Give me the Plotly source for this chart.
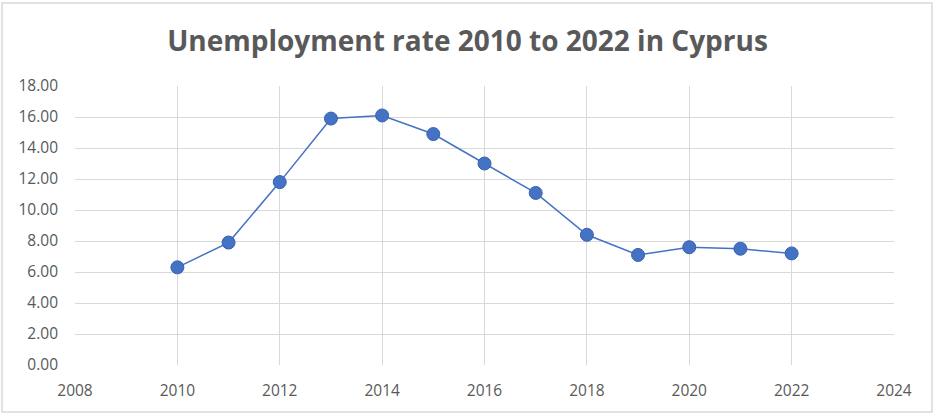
import plotly.graph_objects as go

# Unemployment rate in Cyprus, percent of labour force
years = [2010, 2011, 2012, 2013, 2014, 2015, 2016, 2017, 2018, 2019, 2020, 2021, 2022]
rates = [6.3, 7.9, 11.8, 15.9, 16.1, 14.9, 13.0, 11.1, 8.4, 7.1, 7.6, 7.5, 7.2]

x_ticks = [2008, 2010, 2012, 2014, 2016, 2018, 2020, 2022, 2024]
y_ticks = [0, 2, 4, 6, 8, 10, 12, 14, 16, 18]

blue = "#4472C4"
grey_text = "#595959"
grid = "#d9d9d9"

fig = go.Figure()
fig.add_trace(go.Scatter(
    x=years, y=rates,
    mode="lines+markers",
    line=dict(color=blue, width=1.5),
    marker=dict(size=13, color=blue, line=dict(color="#3a62ad", width=1)),
    showlegend=False,
))

W, H = 935, 415
m_l, m_r, m_t, m_b = 75, 41, 86, 50
pw, ph = W - m_l - m_r, H - m_t - m_b

def px_x(p):
    return (p - m_l) / pw

def px_y(p):
    return (H - m_b - p) / ph

tick_font = dict(family="Open Sans", size=15.5, color=grey_text)

fig.update_layout(
    width=W, height=H,
    margin=dict(l=m_l, r=m_r, t=m_t, b=m_b),
    paper_bgcolor="white", plot_bgcolor="white",
    title=dict(
        text="<b>Unemployment rate 2010 to 2022 in Cyprus</b>",
        x=0.5, xanchor="center", y=1 - 41 / H, yanchor="middle",
        font=dict(family="Open Sans", size=28, color=grey_text),
    ),
    xaxis=dict(
        range=[2008, 2024], tickvals=x_ticks, ticktext=[str(v) for v in x_ticks],
        showgrid=True, gridcolor=grid, gridwidth=1.2,
        zeroline=False, showline=False, ticks="",
        tickfont=tick_font, ticklabelstandoff=14,
    ),
    yaxis=dict(
        range=[0, 18], tickvals=y_ticks, ticktext=[f"{v:.2f}" for v in y_ticks],
        showgrid=True, gridcolor=grid, gridwidth=1.2,
        zeroline=False, showline=False, ticks="",
        tickfont=tick_font, ticklabelstandoff=16,
    ),
    shapes=[dict(
        type="rect", xref="paper", yref="paper",
        x0=px_x(2), x1=px_x(932), y0=px_y(412), y1=px_y(3),
        line=dict(color="#d9d9d9", width=1.5), layer="below",
    )],
)

fig.write_html("out.html")
